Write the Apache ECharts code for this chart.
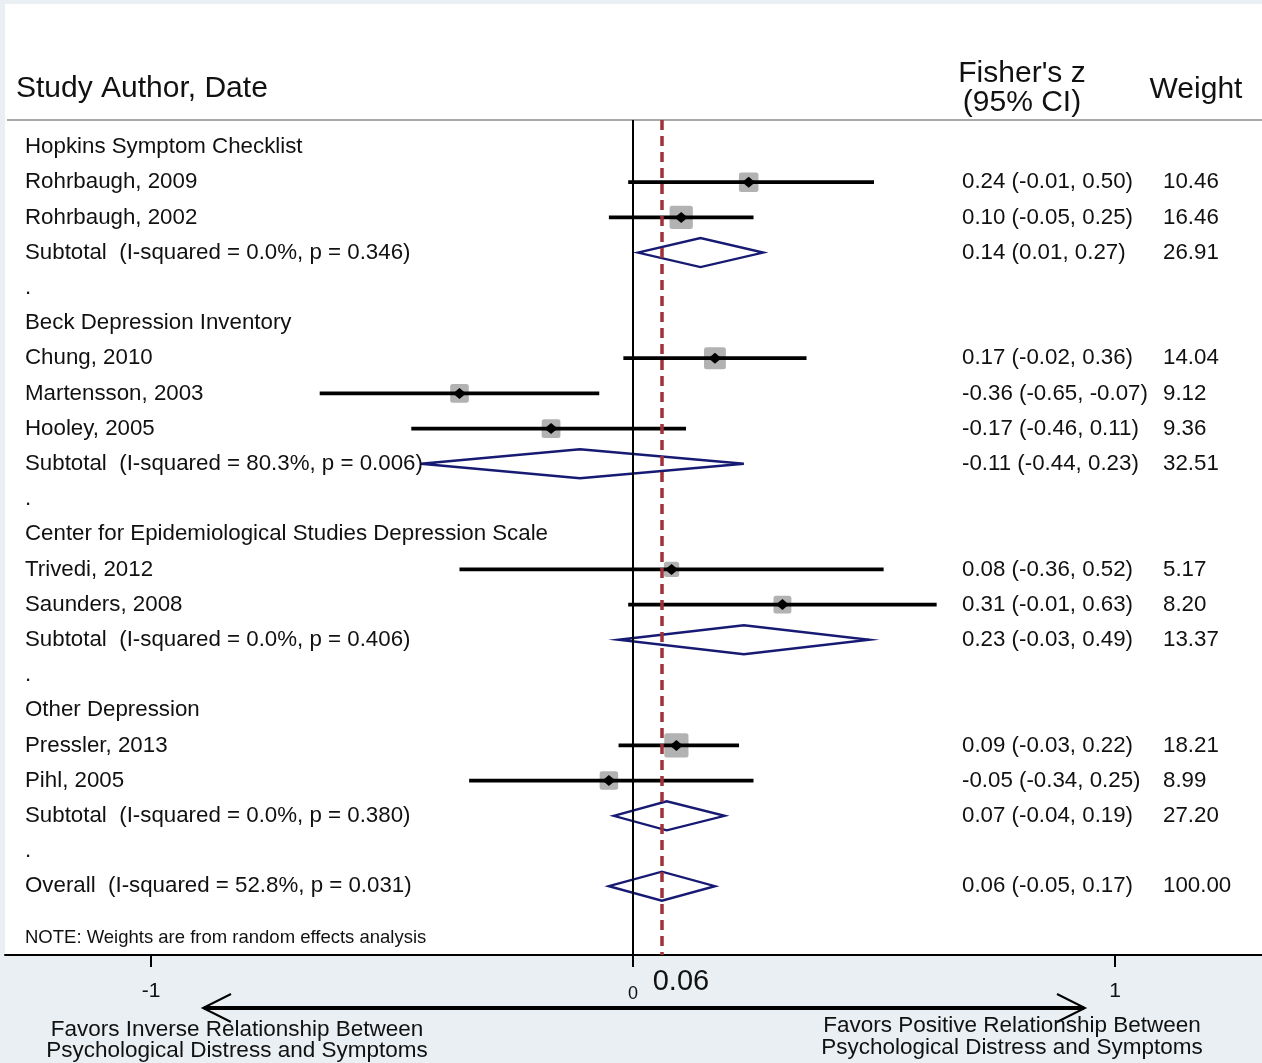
<!DOCTYPE html>
<html>
<head>
<meta charset="utf-8">
<script src="https://cdn.jsdelivr.net/npm/echarts@6/dist/echarts.min.js"></script>
<style>
html,body{margin:0;padding:0;background:#e9eff2;}
#chart{width:1262px;height:1063px;}
</style>
</head>
<body>
<div id="chart"></div>
<script>
// ---------- data ----------
const rowLabels = [
  "Hopkins Symptom Checklist",
  "Rohrbaugh, 2009",
  "Rohrbaugh, 2002",
  "Subtotal  (I-squared = 0.0%, p = 0.346)",
  ".",
  "Beck Depression Inventory",
  "Chung, 2010",
  "Martensson, 2003",
  "Hooley, 2005",
  "Subtotal  (I-squared = 80.3%, p = 0.006)",
  ".",
  "Center for Epidemiological Studies Depression Scale",
  "Trivedi, 2012",
  "Saunders, 2008",
  "Subtotal  (I-squared = 0.0%, p = 0.406)",
  ".",
  "Other Depression",
  "Pressler, 2013",
  "Pihl, 2005",
  "Subtotal  (I-squared = 0.0%, p = 0.380)",
  ".",
  "Overall  (I-squared = 52.8%, p = 0.031)"
];
// h = group heading, s = study, d = pooled (diamond), . = spacer
const rowKind = ["h","s","s","d",".", "h","s","s","s","d",".", "h","s","s","d",".", "h","s","s","d",".", "d"];
const estimate = [null,0.24,0.10,0.14,null, null,0.17,-0.36,-0.17,-0.11,null, null,0.08,0.31,0.23,null, null,0.09,-0.05,0.07,null, 0.06];
const lower    = [null,-0.01,-0.05,0.01,null, null,-0.02,-0.65,-0.46,-0.44,null, null,-0.36,-0.01,-0.03,null, null,-0.03,-0.34,-0.04,null, -0.05];
const upper    = [null,0.50,0.25,0.27,null, null,0.36,-0.07,0.11,0.23,null, null,0.52,0.63,0.49,null, null,0.22,0.25,0.19,null, 0.17];
const weight   = [null,10.46,16.46,26.91,null, null,14.04,9.12,9.36,32.51,null, null,5.17,8.20,13.37,null, null,18.21,8.99,27.20,null, 100.00];
const xTickValues = [-1, 0, 1];
const overallEstimate = 0.06;
const overallLabel = "0.06";
const noteText = "NOTE: Weights are from random effects analysis";
const headerStudy = "Study Author, Date";
const headerEffect = "Fisher's z\n(95% CI)";
const headerWeight = "Weight";
const leftCaption = "Favors Inverse Relationship Between\nPsychological Distress and Symptoms";
const rightCaption = "Favors Positive Relationship Between\nPsychological Distress and Symptoms";

// ---------- layout ----------
const FONT = '"Liberation Sans", Arial, sans-serif';
const ROWFS = 22.3;
const gridLeft = 5, gridRight = 0, gridTop = 120, gridBottom = 108;
const plotH = 1063 - gridTop - gridBottom;
// pixel mapping: -1 -> 151, 1 -> 1115
const pxPerUnit = (1115 - 151) / 2;
const zeroPx = (1115 + 151) / 2;
const xMin = (gridLeft - zeroPx) / pxPerUnit;
const xMax = (1262 - gridRight - zeroPx) / pxPerUnit;
const rowH = 35.2, firstRowPx = 147;
const yMin = -(firstRowPx - gridTop) / rowH;
const yMax = yMin + plotH / rowH;

const fmt = v => v.toFixed(2);

function renderItem(params, api) {
  const i = params.dataIndex;
  const cs = params.coordSys;
  const y = api.coord([0, i])[1];
  const kind = rowKind[i];
  const children = [];
  if (kind === 's') {
    const xe = api.coord([estimate[i], i])[0];
    const xl = api.coord([lower[i], i])[0];
    const xh = api.coord([upper[i], i])[0];
    const side = 4.5 * Math.sqrt(weight[i]) + 5;
    children.push({type:'rect', shape:{x: xe - side/2, y: y - side/2, width: side, height: side, r: 2.5},
      style:{fill:'#b2b2b2'}});
    children.push({type:'line', shape:{x1: xl, y1: y, x2: xh, y2: y},
      style:{stroke:'#000', lineWidth: 3.8}});
    children.push({type:'polygon', shape:{points:[[xe-6.5,y],[xe,y-5.5],[xe+6.5,y],[xe,y+5.5]]},
      style:{fill:'#000'}});
  } else if (kind === 'd') {
    const xe = api.coord([estimate[i], i])[0];
    const xl = api.coord([lower[i], i])[0];
    const xh = api.coord([upper[i], i])[0];
    children.push({type:'polygon', shape:{points:[[xl,y],[xe,y-14.5],[xh,y],[xe,y+14.5]]},
      style:{fill:'none', stroke:'#161a72', lineWidth: 2.4}});
  }
  // left label
  children.push({type:'text', style:{text: rowLabels[i], x: cs.x + 20, y: y,
    verticalAlign:'middle', align:'left', fill:'#111', font: ROWFS + 'px ' + FONT}});
  if (estimate[i] !== null) {
    children.push({type:'text', style:{text: fmt(estimate[i]) + ' (' + fmt(lower[i]) + ', ' + fmt(upper[i]) + ')',
      x: cs.x + 957, y: y, verticalAlign:'middle', align:'left', fill:'#111', font: ROWFS + 'px ' + FONT}});
    children.push({type:'text', style:{text: fmt(weight[i]),
      x: cs.x + 1158, y: y, verticalAlign:'middle', align:'left', fill:'#111', font: ROWFS + 'px ' + FONT}});
  }
  if (i === rowLabels.length - 1) {
    const xo = api.coord([overallEstimate, i])[0];
    children.push({type:'text', style:{text: overallLabel, x: xo + 19, y: cs.y + cs.height + 27,
      verticalAlign:'middle', align:'center', fill:'#111', font: '29px ' + FONT}});
  }
  return {type:'group', children};
}

const chart = echarts.init(document.getElementById('chart'), null, {renderer:'canvas'});
chart.setOption({
  backgroundColor: '#e9eff2',
  animation: false,
  grid: {left: gridLeft, right: gridRight, top: gridTop, bottom: gridBottom, containLabel: false},
  xAxis: {
    type: 'value', min: xMin, max: xMax,
    axisLine: {onZero: false, lineStyle: {color:'#000', width: 2}},
    axisTick: {customValues: xTickValues, length: 12, lineStyle:{color:'#000', width: 2}},
    axisLabel: {customValues: xTickValues, margin: 26, color:'#111', fontSize: 21, fontFamily: FONT,
      formatter: v => v === 0 ? '{s|0}' : String(v),
      rich: {s: {fontSize: 18, fontFamily: FONT, color:'#111', padding:[4,0,0,0]}}},
    splitLine: {show: false}
  },
  yAxis: {type: 'value', min: yMin, max: yMax, inverse: true, show: false, splitLine:{show:false}},
  graphic: [
    {type:'rect', z: -10, shape:{x: 5, y: 4, width: 1257, height: 951}, style:{fill:'#fff'}, silent: true},
    {type:'line', shape:{x1: 7, y1: 120, x2: 1262, y2: 120}, style:{stroke:'#a9a9a9', lineWidth: 2}, silent: true},
    {type:'text', style:{text: headerStudy, x: 16, y: 89, verticalAlign:'middle', fill:'#111', font:'30px ' + FONT}},
    {type:'text', style:{text: headerEffect, x: 1022, y: 88, align:'center', verticalAlign:'middle', lineHeight: 29, fill:'#111', font:'30px ' + FONT}},
    {type:'text', style:{text: headerWeight, x: 1196, y: 90, align:'center', verticalAlign:'middle', fill:'#111', font:'30px ' + FONT}},
    {type:'text', style:{text: noteText, x: 25, y: 938, verticalAlign:'middle', fill:'#111', font:'18.5px ' + FONT}},
    {type:'line', shape:{x1: 204, y1: 1008, x2: 1084, y2: 1008}, style:{stroke:'#000', lineWidth: 4}},
    {type:'polyline', shape:{points:[[231,994],[203,1008],[231,1022]]}, style:{stroke:'#000', lineWidth: 2, fill:'none'}},
    {type:'polyline', shape:{points:[[1057,994],[1085,1008],[1057,1022]]}, style:{stroke:'#000', lineWidth: 2, fill:'none'}},
    {type:'text', style:{text: leftCaption, x: 237, y: 1040, align:'center', verticalAlign:'middle', lineHeight: 21, fill:'#111', font:'22.5px ' + FONT}},
    {type:'text', style:{text: rightCaption, x: 1012, y: 1037, align:'center', verticalAlign:'middle', lineHeight: 22, fill:'#111', font:'22.5px ' + FONT}}
  ],
  series: [{
    type: 'custom',
    clip: false,
    renderItem: renderItem,
    data: rowLabels.map((_, i) => [estimate[i] === null ? 0 : estimate[i], i]),
    encode: {x: 0, y: 1},
    markLine: {
      silent: true, symbol: 'none', label: {show: false}, animation: false,
      data: [
        {xAxis: 0, lineStyle: {color:'#000', width: 2, type:'solid'}},
        {xAxis: overallEstimate, lineStyle: {color:'#a0303a', width: 3.5, type:[10,6]}}
      ]
    }
  }]
});
</script>
</body>
</html>
